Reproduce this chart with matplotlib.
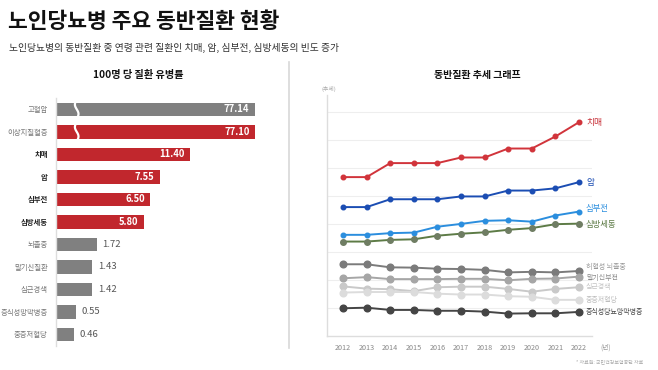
import matplotlib
matplotlib.use('Agg')
import matplotlib.pyplot as plt
import matplotlib.transforms as mtransforms
import numpy as np

plt.rcParams['font.family'] = ['Noto Sans CJK KR', 'DejaVu Sans']

# 왼쪽: 100명 당 질환 유병률
diseases = ['고혈압', '이상지질혈증', '치매', '암', '심부전', '심방세동',
            '뇌졸중', '말기신질환', '심근경색', '증식성망막병증', '중증저혈당']
prevalence = [77.14, 77.10, 11.40, 7.55, 6.50, 5.80, 1.72, 1.43, 1.42, 0.55, 0.46]
highlight = [False, True, True, True, True, True, False, False, False, False, False]
bold_label = [False, False, True, True, True, True, False, False, False, False, False]

# 오른쪽: 동반질환 추세 (상대 추세 지수)
years = list(range(2012, 2023))
trend_names = ['치매', '암', '심부전', '심방세동', '허혈성 뇌졸중',
               '말기신부전', '심근경색', '중증저혈당', '증식성당뇨망막병증']
dementia = [5.67, 5.67, 6.17, 6.17, 6.17, 6.37, 6.37, 6.69, 6.69, 7.12, 7.63]
cancer = [4.60, 4.60, 4.88, 4.88, 4.88, 4.98, 4.98, 5.19, 5.19, 5.27, 5.49]
heart_failure = [3.61, 3.61, 3.67, 3.69, 3.90, 4.00, 4.11, 4.13, 4.08, 4.30, 4.44]
afib = [3.37, 3.37, 3.43, 3.45, 3.58, 3.65, 3.70, 3.79, 3.85, 3.99, 4.01]
stroke = [2.56, 2.56, 2.45, 2.44, 2.40, 2.39, 2.36, 2.27, 2.29, 2.27, 2.32]
esrd = [2.06, 2.10, 2.03, 2.03, 2.03, 2.04, 2.04, 1.99, 2.04, 2.05, 2.12]
mi = [1.77, 1.69, 1.67, 1.60, 1.74, 1.76, 1.76, 1.68, 1.58, 1.68, 1.74]
hypoglycemia = [1.55, 1.57, 1.57, 1.57, 1.51, 1.48, 1.48, 1.42, 1.40, 1.29, 1.29]
retinopathy = [0.99, 1.01, 0.93, 0.93, 0.90, 0.90, 0.87, 0.80, 0.81, 0.81, 0.86]
trend_values = [dementia, cancer, heart_failure, afib, stroke, esrd, mi,
                hypoglycemia, retinopathy]

W, H = 658, 370
fig = plt.figure(figsize=(W / 100, H / 100), dpi=100)
fig.patch.set_facecolor('white')


def fx(px):
    return px / W


def fy(py):
    return 1 - py / H


# 제목
fig.text(fx(8), fy(22), '노인당뇨병 주요 동반질환 현황', fontsize=15.5,
         fontweight='bold', color='#111111', va='center', ha='left')
fig.text(fx(9), fy(48),
         '노인당뇨병의 동반질환 중 연령 관련 질환인 치매, 암, 심부전, 심방세동의 빈도 증가',
         fontsize=7.05, color='#333333', va='center', ha='left')

# 가운데 구분선
fig.add_artist(plt.Line2D([fx(289), fx(289)], [fy(62), fy(348)],
                          color='#d8d8d8', lw=1.2))

# ---- 왼쪽 막대 그래프 ----
fig.text(fx(138), fy(75), '100명 당 질환 유병률', fontsize=7.3,
         fontweight='bold', color='#111111', ha='center', va='center')

ax1 = fig.add_axes([fx(56), fy(345.5), fx(255) - fx(56), (345.5 - 98) / H])
p = 0.63
ax1.set_xscale('function',
               functions=(lambda x: np.power(np.clip(x, 0, None), p),
                          lambda x: np.power(np.clip(x, 0, None), 1 / p)))
xmax = 21.26
ax1.set_xlim(0, xmax)
ypos = np.arange(len(diseases))
colors = ['#c1272d' if h else '#808080' for h in highlight]
ax1.barh(ypos, prevalence, height=0.6, color=colors)
ax1.set_ylim(len(diseases) - 0.5, -0.5)

for i, v in enumerate(prevalence):
    if highlight[i] or v > xmax:
        ax1.annotate(f'{v:.2f}', (min(v, xmax), i), xytext=(-4, 0),
                     textcoords='offset points', ha='right', va='center',
                     fontsize=6.8, fontweight='bold', color='white')
    else:
        ax1.annotate(f'{v:.2f}', (v, i), xytext=(4, 0),
                     textcoords='offset points', ha='left', va='center',
                     fontsize=6.8, fontweight='medium', color='#555555')

# 축 끊김 표시
trans = mtransforms.blended_transform_factory(ax1.transAxes, ax1.transData)
for i, v in enumerate(prevalence):
    if v > xmax:
        t = np.linspace(-0.42, 0.42, 40)
        ax1.plot(0.104 + 0.009 * np.sin(t / 0.42 * np.pi), i + t,
                 transform=trans, color='white', lw=1.6, clip_on=False)

ax1.set_yticks(ypos)
ax1.set_yticklabels(diseases)
for lab, b in zip(ax1.get_yticklabels(), bold_label):
    lab.set_fontsize(5.3)
    if b:
        lab.set_fontweight('bold')
        lab.set_color('#222222')
    else:
        lab.set_color('#777777')
ax1.tick_params(axis='y', length=0, pad=6)
ax1.xaxis.set_visible(False)
for s in ['top', 'right', 'bottom']:
    ax1.spines[s].set_visible(False)
ax1.spines['left'].set_color('#dddddd')
ax1.spines['left'].set_linewidth(1)

# ---- 오른쪽 추세 그래프 ----
fig.text(fx(477), fy(75), '동반질환 추세 그래프', fontsize=7.2,
         fontweight='bold', color='#111111', ha='center', va='center')

ax2 = fig.add_axes([fx(327), fy(336), fx(592) - fx(327), (336 - 95) / H])
ax2.set_xlim(2011.32, 2022.55)
ax2.set_ylim(0, 8.6)
ax2.set_yticks(range(1, 9))
ax2.yaxis.grid(True, color='#eeeeee', lw=0.8)
ax2.set_axisbelow(True)
ax2.tick_params(axis='y', length=0, labelleft=False)
ax2.set_xticks(years)
ax2.set_xticklabels([str(y) for y in years])
ax2.tick_params(axis='x', length=0, pad=6, labelsize=5.2, labelcolor='#888888')
for s in ['top', 'right']:
    ax2.spines[s].set_visible(False)
for s in ['left', 'bottom']:
    ax2.spines[s].set_color('#dddddd')
    ax2.spines[s].set_linewidth(1)

line_colors = ['#d1343b', '#1b4db3', '#2b8ede', '#5d7b46', '#7b7b7b',
               '#a6a6a6', '#c9c9c9', '#dcdcdc', '#454545']
marker_colors = ['#d1343b', '#1b4db3', '#2b8ede', '#6f7d63', '#7b7b7b',
                 '#a6a6a6', '#c9c9c9', '#dcdcdc', '#454545']
marker_sizes = [3.3, 3.3, 3.3, 4.0, 4.8, 4.8, 4.8, 4.8, 4.8]
label_colors = ['#c8323a', '#1b4db3', '#2b8ede', '#5d7b46', '#999999',
                '#8a8a8a', '#c4c4c4', '#bdbdbd', '#444444']
label_sizes = [6.3, 6.3, 6.0, 6.0, 5.0, 5.0, 5.0, 5.0, 5.0]
label_nudge = [0, 0, 3, -1, 4, -1.5, 0, 0, 0]

for name, vals, lc, mc, ms, tc, ts, dy in zip(trend_names, trend_values,
                                              line_colors, marker_colors,
                                              marker_sizes, label_colors,
                                              label_sizes, label_nudge):
    ax2.plot(years, vals, color=lc, lw=1.4, marker='o', ms=ms,
             markerfacecolor=mc, markeredgecolor=mc, clip_on=False)
    ax2.annotate(name, (years[-1], vals[-1]), xytext=(7, dy),
                 textcoords='offset pixels', ha='left', va='center',
                 fontsize=ts, color=tc, annotation_clip=False)

fig.text(fx(321), fy(89), '(추세)', fontsize=4.2, color='#aaaaaa',
         ha='left', va='center')
fig.text(fx(600), fy(348), '(년)', fontsize=4.8, color='#999999',
         ha='left', va='center')
fig.text(fx(643), fy(362), '* 자료원: 국민건강보험공단 자료', fontsize=3.6,
         color='#aaaaaa', ha='right', va='center')

fig.savefig('out.png', dpi=100, facecolor='white')
